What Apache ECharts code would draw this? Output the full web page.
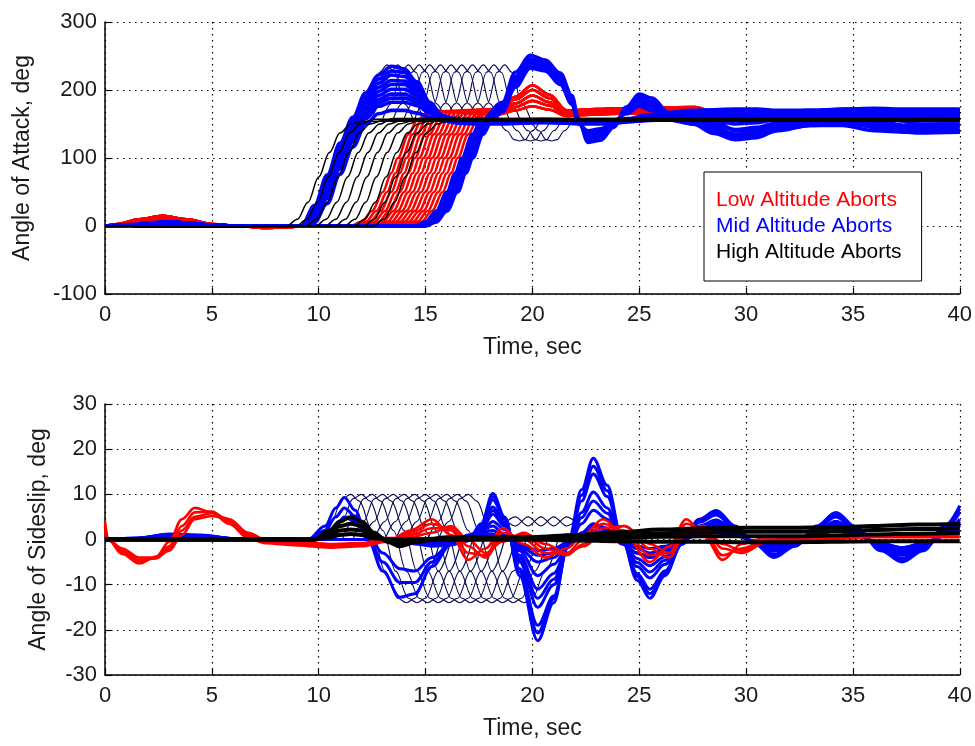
<!DOCTYPE html>
<html><head><meta charset="utf-8">
<script src="https://cdn.jsdelivr.net/npm/echarts@6/dist/echarts.min.js"></script>
<style>html,body{margin:0;padding:0;background:#fff}#c{width:975px;height:746px}</style>
</head><body><div id="c"></div>
<script>
// ================= Angle of Attack (top panel) =================
// Low altitude (red): pre-abort wiggle variants, onset times of the pitch-up, rise shape, post variants
const aoaRedPreA = [[0,0],[0.6,3],[1.6,10],[2.7,15],[3.8,10],[5.0,3],[6.2,0],[7.5,-3],[8.4,-2],[9.4,0]];
const aoaRedPreB = [[0,0],[0.6,2],[1.6,7],[2.7,11],[3.8,7],[5.0,2],[6.2,0],[7.5,-2],[8.4,-1],[9.4,0]];
const aoaRedPreC = [[0,0],[0.6,1],[1.6,4],[2.7,7],[3.8,5],[5.0,1],[6.2,0],[7.5,-2],[8.4,-1],[9.4,0]];
const aoaRedOnsets = [11.5, 11.7, 11.9, 12.1, 12.3, 12.5, 12.7, 12.9, 13.1, 13.3, 13.5, 13.7, 13.9, 14.1, 14.3, 14.5, 14.7];
const aoaRedRise = [[0,0],[0.5,6],[1.0,22],[1.5,50],[1.9,78],[2.2,100],[2.7,135],[3.1,155],[3.6,168]];
const aoaRedPostA = [[18.4,172],[19.2,190],[20.0,207],[20.8,193],[21.6,170],[23,172],[25,174],[27.6,175],[28.6,166],[31,162],[40,162]];
const aoaRedPostB = [[18.4,170],[19.2,186],[20.0,200],[20.8,188],[21.6,168],[23,170],[25,172],[27.6,173],[28.6,164],[31,161],[40,161]];
const aoaRedPostC = [[18.4,168],[19.2,180],[20.0,192],[20.8,182],[21.6,166],[23,168],[25,170],[27.6,171],[28.6,163],[31,160],[40,160]];
const aoaRedPostD = [[18.4,166],[19.2,175],[20.0,184],[20.8,177],[21.6,164],[23,166],[25,168],[27.6,169],[28.6,161],[31,159],[40,159]];
const aoaRedPostE = [[18.4,164],[19.2,170],[20.0,176],[20.8,171],[21.6,162],[23,164],[25,166],[27.6,167],[28.6,160],[31,158],[40,158]];

// Mid altitude (blue), early group on a shared time grid
const aoaBlueEarlyT = [0,1.2,2.2,3.0,4.0,5.0,6.0,8.0,9.2,9.8,10.4,11.0,11.6,12.2,12.8,13.4,14.0,14.6,15.2,15.8,16.6,17.5,18.5,19.5,20.5,21.5,22.5,23.5,24.5,25.3,26.2,27.5,28.5,29.5,30.5,31.5,33,34.5,36,37.5,39,40];
const aoaBlueE1 = [0,2,5,6,4,1,0,0,0,30,75,122,160,196,222,235,231,212,182,162,156,155,155,156,157,156,155,155,158,163,167,170,171,172,172,170,170,172,173,172,172,172];
const aoaBlueE2 = [0,1,4,5,3,1,0,0,0,24,66,112,150,186,210,222,220,205,178,160,155,154,154,155,156,155,154,154,157,160,164,168,168,166,168,168,166,168,170,170,169,170];
const aoaBlueE3 = [0,1,3,4,3,1,0,0,0,18,57,102,141,176,198,208,208,197,175,158,154,153,153,154,155,154,153,153,156,158,162,164,160,156,158,162,164,166,164,160,162,163];
const aoaBlueE4 = [0,1,3,4,2,0,0,0,0,12,48,92,132,166,186,194,194,187,171,157,153,152,152,153,154,153,152,152,155,157,160,158,150,142,145,152,158,162,155,148,150,150];
const aoaBlueE5 = [0,0,2,3,2,0,0,0,0,8,40,84,124,158,176,182,182,177,166,156,152,151,151,152,153,152,151,151,154,156,157,150,136,127,130,142,148,148,140,138,138,138];
const aoaBlueE6 = [0,0,1,2,1,0,0,0,0,5,33,76,116,150,165,170,170,166,160,155,151,150,150,151,152,151,150,150,153,155,156,153,145,135,136,145,150,152,146,142,144,144];
const aoaBlueE7 = [0,1,4,5,3,1,0,0,0,27,70,117,155,191,216,228,226,208,180,161,155,154,154,155,156,155,154,154,157,161,165,169,170,170,170,169,168,170,171,171,170,171];
const aoaBlueE8 = [0,1,3,4,3,1,0,0,0,15,52,97,137,171,192,201,201,192,173,158,154,153,153,154,155,154,153,153,156,158,161,160,155,150,152,157,161,164,160,154,156,157];
const aoaBlueE9 = [0,1,4,5,3,1,0,0,0,21,62,107,146,181,204,214,213,200,176,159,155,154,154,155,156,155,154,154,157,159,163,166,164,161,163,165,165,167,167,165,166,166];
const aoaBlueE10 = [0,1,2,3,2,0,0,0,0,10,44,88,128,162,181,188,188,182,168,156,152,151,151,152,153,152,151,151,154,156,158,154,143,134,138,148,153,155,150,145,147,147];

// Mid altitude (blue), late group: onsets, rise, then shared post grid
const aoaBluePre = [[0,0],[1.2,1],[2.2,4],[3.0,6],[4.0,4],[5.0,1],[6.0,0]];
const aoaBlueLateOnsets = [14.5, 14.6, 14.7, 14.8, 14.9, 14.95, 15.0];
const aoaBlueRise = [[0,0],[0.5,6],[1.0,22],[1.5,50],[1.9,78],[2.2,100],[2.7,135],[3.1,155]];
const aoaBlueLateT = [18.6,19.2,19.9,20.6,21.3,21.85,22.15,22.6,23.2,23.8,24.4,25.0,25.6,26.4,27.5,28.5,29.5,30.5,31.5,33,35,36.5,38,40];
const aoaBlueP1 = [182,226,251,244,225,192,158,123,126,145,175,194,188,166,160,150,128,136,150,158,162,150,140,140];
const aoaBlueP2 = [178,220,246,240,220,188,156,127,130,148,172,189,183,163,158,155,140,142,152,162,168,160,150,150];
const aoaBlueP3 = [176,217,243,238,218,186,155,129,132,149,171,186,180,161,166,165,160,159,163,168,171,170,164,165];
const aoaBlueP4 = [174,214,240,236,216,185,154,131,134,150,170,184,178,160,164,162,155,155,160,166,170,168,160,160];
const aoaBlueP5 = [172,211,238,234,214,183,153,133,136,151,168,182,176,159,150,140,130,134,145,154,156,146,138,139];
const aoaBlueP6 = [170,208,236,232,212,182,152,136,139,152,167,180,174,158,168,168,165,163,166,170,172,172,168,170];
const aoaBlueP7 = [168,204,232,228,208,179,150,140,143,154,165,176,170,156,155,145,135,132,140,148,150,142,137,138];

// High altitude (black) pitch-up curves
const aoaBlackPre = [[0,0],[1.0,0],[2.0,-2],[6.6,-2],[7.2,0]];
const aoaBlackOnsets = [8.5, 8.95, 9.4, 9.85, 10.3, 10.75, 11.2, 11.65, 12.1, 12.55];
const aoaBlackPlateaus = [154, 157, 155, 158, 156, 154, 157, 155, 158, 156];
const aoaBlackRise = [[0,0],[0.5,10],[1.0,35],[1.5,72],[2.0,108],[2.5,137],[3.0,150]];

// Dark cross-hatch traces
const aoaHatchPeaks = [13.2,13.7,14.2,14.7,15.2,15.7,16.2,16.7,17.2,17.7,18.2,18.7];
const aoaHatchHump = [[-1.2,158],[-0.8,180],[-0.35,226],[0,237],[0.35,226],[0.8,180],[1.2,158]];
const aoaHatchTroughs = [19.4,19.9,20.4,20.9];
const aoaHatchDip = [[-1.0,158],[-0.6,140],[-0.25,127],[0,125],[0.25,127],[0.6,140],[1.0,158]];

// ================= Angle of Sideslip (bottom panel) =================
const betaRedT = [0,0.15,0.8,1.6,2.4,3.0,3.6,4.2,5.0,5.8,6.7,7.5,9,10.5,12,13.2,14.3,15.3,16.2,17.0,17.8,18.6,19.6,20.6,21.6,22.4,23.3,24.3,25.5,26.4,27.2,28.0,28.9,29.8,31,33,36,40];
const betaRed1 = [4,0,-3.2,-5.3,-3.8,-0.5,4.5,7.0,6.0,3.5,0.3,-0.8,-1.3,-1.8,-1.5,-0.5,2.0,4.5,1.0,-4.5,-2.0,2.5,-1.0,-4.0,-2.0,1.0,4.5,1.0,-5.0,-1.5,4.5,1.0,-4.5,-1.0,0.5,0,0.5,0.5];
const betaRed2 = [3,0,-2.8,-4.8,-4.0,-1.5,3.0,6.0,6.2,4.0,0.8,-0.5,-1.0,-1.5,-1.3,-0.3,1.5,3.5,2.0,-3.0,-3.5,1.5,0,-3.0,-3.0,0,3.5,2.0,-3.5,-3.0,3.5,2.0,-3.5,-2.0,0,0.3,0.8,1.0];
const betaRed3 = [2,0,-2.5,-4.5,-4.2,-2.0,2.0,5.0,5.8,4.5,1.2,-0.3,-0.8,-1.2,-1.0,0,1.0,2.5,2.5,-1.5,-4.0,0.5,1.0,-2.0,-3.5,-1.0,2.5,3.0,-2.0,-4.0,2.0,3.0,-2.0,-3.0,-0.5,0.5,1.0,1.5];
const betaRed4 = [1,0,-2.0,-4.0,-4.0,-2.5,1.0,4.5,5.2,4.5,1.5,0,-0.5,-1.0,-0.8,0.3,0.5,1.5,3.0,0,-3.0,-0.5,1.5,-1.0,-3.0,-1.5,1.5,3.0,-1.0,-3.0,1.0,3.0,-1.0,-2.5,-0.5,0,1.0,1.5];

const betaBlueT = [0,1.5,3,4.5,6,9.5,10.3,10.8,11.2,11.7,12.3,13.0,13.8,14.5,15.3,16.2,17.0,17.6,18.15,18.7,19.4,20.25,21.0,21.7,22.3,22.85,23.5,24.2,24.9,25.5,26.2,27.0,27.8,28.6,29.5,30.4,31.3,32.3,33.3,34.2,35.2,36.3,37.3,38.3,39.3,40];
const betaBlueL1 = [0,0.3,1.2,1.0,0.2,0,0,0,0,0,0,0,-0.3,-1.0,-1.5,-1.2,-0.3,3.5,10.2,5.0,-8,-22.4,-14,0,11,18,12,0,-9,-13,-8,-1,4.5,6.4,3,-1,-4,-1.5,3,6,2.5,-2.5,-5,-2.5,3,7.5];
const betaBlueL6 = [0,0.3,1.1,0.9,0.2,0,0,0,0,0,0,0,-0.2,-0.9,-1.3,-1.1,-0.2,3.2,9.5,4.8,-7.2,-20.7,-13.2,-0.5,9.8,16.2,10.8,0,-8.2,-12,-7.5,-1,4.2,5.9,2.8,-1,-3.6,-1.3,2.7,5.5,2.2,-2.2,-4.6,-2.2,2.7,6.8];
const betaBlueL2 = [0,0.3,1.0,0.8,0.2,0,0,0,0,0,0,0,-0.2,-0.8,-1.2,-1.0,-0.2,3.0,8.8,4.5,-6.5,-19,-12.5,-1,8.5,14.5,9.5,0,-7.5,-11,-7,-1,3.8,5.4,2.5,-1,-3.3,-1.2,2.5,5,2,-2,-4.2,-2,2.5,6];
const betaBlueL3 = [0,0.2,0.8,0.6,0.1,0,0,0,0,0,0,0,0,-0.5,-0.8,-0.6,0,2.5,7.2,3.8,-5,-15,-10,-1.5,6,10.5,7,-0.5,-6,-8.5,-5.5,-0.8,3,4.3,2,-0.8,-2.6,-1,2,4,1.6,-1.6,-3.4,-1.6,2,4.5];
const betaBlueL7 = [0,0.2,0.7,0.55,0.1,0,0,0,0,0,0,0,0,-0.4,-0.6,-0.5,0,2.2,6.4,3.4,-4.2,-13,-8.8,-1.5,4.8,8.5,5.8,-0.5,-5.1,-7.2,-4.6,-0.6,2.6,3.8,1.8,-0.7,-2.3,-0.9,1.8,3.5,1.4,-1.4,-3,-1.4,1.8,3.8];
const betaBlueL4 = [0,0.2,0.6,0.5,0.1,0,0,0,0,0,0,0,0,-0.3,-0.5,-0.4,0,2.0,5.6,3.0,-3.5,-11,-7.5,-1.5,3.5,6.5,4.5,-0.5,-4.2,-5.8,-3.8,-0.5,2.2,3.2,1.5,-0.6,-2,-0.8,1.5,3,1.2,-1.2,-2.6,-1.2,1.5,3.2];
const betaBlueL5 = [0,0.1,0.5,0.4,0.1,0,0,0,0,0,0,0,0,-0.2,-0.3,-0.2,0,1.5,4.0,2.2,-2.5,-8,-5.5,-1.5,1.5,3.5,2.5,-1,-3,-4,-2.5,-0.3,1.5,2.2,1,-0.4,-1.4,-0.5,1,2,0.8,-0.8,-1.8,-0.8,1,2.2];
const betaBlueE1 = [0,0.3,1.0,0.9,0.2,0,3,7,9.3,6.5,0,-7,-12.8,-12,-6,-1,1,2,3,1,-2,-5,-4,-1,1,3,2,-1,-3,-4,-3,0,2,3,1.5,-1,-2.5,-1,2,4,2,-2,-3.5,-2,1.5,4];
const betaBlueE2 = [0,0.2,0.8,0.7,0.2,0,2,5,7,5.2,0.5,-5,-9.5,-9.5,-5,-1,0.5,1.5,2,0.5,-1.5,-3.5,-3,-0.5,0.5,2,1.5,-0.5,-2,-3,-2,0,1.5,2,1,-0.5,-1.8,-0.8,1.5,3,1.5,-1.5,-2.5,-1.5,1,3];
const betaBlueE3 = [0,0.2,0.6,0.5,0.1,0,1,3,5,4,1,-3,-6.5,-7,-4,-1,0,1,1.2,0.3,-1,-2.5,-2,-0.5,0.3,1.2,1,-0.3,-1.5,-2,-1.5,0,1,1.5,0.8,-0.3,-1.2,-0.5,1,2,1,-1,-1.8,-1,0.8,2];

const betaBlackT = [0,9.8,10.5,11.0,11.5,12.0,12.6,13.2,13.8,14.6,16,18,20,22,24,26,28,30,32,34,36,38,40];
const betaBlackK1 = [0,0,2,4,5,4,1.5,-0.5,-1.5,-0.5,0.5,0.5,0.5,1,1.6,2.2,2.5,2.6,2.6,2.7,3.0,3.3,3.5];
const betaBlackK2 = [0,0,1.5,3,3.5,3,1,0,-1,0,0.3,0.3,0.3,0.5,1,1.4,1.6,1.7,1.7,1.8,2.1,2.3,2.5];
const betaBlackK3 = [0,0,1,2,2.2,2,0.5,0,-0.5,0,0,0,0,0.2,0.4,0.6,0.7,0.7,0.7,0.9,1.1,1.3,1.5];
const betaBlackK4 = [0,0,0.5,1,1.2,1,0.3,0,0,0,0,0,0,-0.2,-0.4,-0.5,-0.5,-0.6,-0.6,-0.5,-0.4,-0.4,-0.4];

const betaHatchPeaks = [11.5,12.0,12.5,13.0,13.5,14.0,14.5,15.0,15.5,16.0,16.5,17.0];
const betaHatchShape = [[-1.4,0],[-0.9,4],[-0.4,9],[0,10],[0.4,8.5],[1.0,2],[1.6,-7],[2.2,-13],[2.6,-14],[3.0,-13],[3.6,-7],[4.2,0]];
const betaStripA = [[18.6,3],[19.2,5],[19.8,3],[20.4,5],[21.0,3],[21.6,5],[22.1,3.5]];
const betaStripB = [[18.6,5],[19.2,3],[19.8,5],[20.4,3],[21.0,5],[21.6,3],[22.1,4.5]];

const LOW = 'Low Altitude Aborts', MID = 'Mid Altitude Aborts', HIGH = 'High Altitude Aborts';
const RED = '#ff0000', BLUE = '#0000ff', BLACK = '#000000', HATCH = '#0a0a55';

// ---------------- build series ----------------
const series = [];
const zip = (t, v) => t.map((x, i) => [x, v[i]]);
const shift = (shape, t0) => shape.map(p => [p[0] + t0, p[1]]);
function line(name, data, color, width, g) {
  series.push({
    type: 'line', name, data, xAxisIndex: g, yAxisIndex: g,
    symbol: 'none', showSymbol: false, smooth: 0.35, smoothMonotone: 'x',
    lineStyle: { color, width }, itemStyle: { color },
    silent: true, animation: false, emphasis: { disabled: true }
  });
}

// top panel
aoaHatchPeaks.forEach(p => line(HIGH, shift(aoaHatchHump, p), HATCH, 1.1, 0));
aoaHatchTroughs.forEach(p => line(HIGH, shift(aoaHatchDip, p), HATCH, 1.1, 0));
aoaRedOnsets.forEach((on, i) => {
  const pre = [aoaRedPreA, aoaRedPreB, aoaRedPreC][i % 3];
  const post = [aoaRedPostA, aoaRedPostC, aoaRedPostE, aoaRedPostB, aoaRedPostD][i % 5];
  const rise = shift(aoaRedRise, on);
  const end = rise[rise.length - 1][0];
  line(LOW, pre.concat(rise, post.filter(p => p[0] > end + 0.2)), RED, 2.6, 0);
});
[aoaBlueE1, aoaBlueE7, aoaBlueE2, aoaBlueE9, aoaBlueE3, aoaBlueE8, aoaBlueE4, aoaBlueE10, aoaBlueE5, aoaBlueE6]
  .forEach(v => line(MID, zip(aoaBlueEarlyT, v), BLUE, 3.6, 0));
[aoaBlueP1, aoaBlueP2, aoaBlueP3, aoaBlueP4, aoaBlueP5, aoaBlueP6, aoaBlueP7].forEach((v, i) => {
  const rise = shift(aoaBlueRise, aoaBlueLateOnsets[i]);
  line(MID, aoaBluePre.concat(rise, zip(aoaBlueLateT, v)), BLUE, 3.6, 0);
});
aoaBlackOnsets.forEach((on, i) => {
  const rise = shift(aoaBlackRise, on);
  const pl = aoaBlackPlateaus[i];
  line(HIGH, aoaBlackPre.concat(rise, [[on + 3.6, pl], [40, pl]]), BLACK, 1.5, 0);
});

// bottom panel
betaHatchPeaks.forEach(p => line(HIGH, shift(betaHatchShape, p), HATCH, 1.1, 1));
line(HIGH, betaStripA, HATCH, 1.1, 1);
line(HIGH, betaStripB, HATCH, 1.1, 1);
[betaBlueL1, betaBlueL6, betaBlueL2, betaBlueL3, betaBlueL7, betaBlueL4, betaBlueL5, betaBlueE1, betaBlueE2, betaBlueE3]
  .forEach(v => line(MID, zip(betaBlueT, v), BLUE, 3, 1));
[betaRed1, betaRed2, betaRed3, betaRed4].forEach(v => line(LOW, zip(betaRedT, v), RED, 2.6, 1));
[betaBlackK1, betaBlackK2, betaBlackK3, betaBlackK4].forEach(v => line(HIGH, zip(betaBlackT, v), BLACK, 4, 1));

// ---------------- axes ----------------
const FONT = 'Liberation Sans, Arial, sans-serif';
const TXT = '#1a1a1a';
const dotted = { show: true, lineStyle: { color: '#000', width: 1.2, type: [1.5, 4.5] } };
function xAx(g) {
  return {
    type: 'value', gridIndex: g, min: 0, max: 40, interval: 5,
    name: 'Time, sec', nameLocation: 'middle', nameGap: 42,
    nameTextStyle: { fontSize: 23, fontFamily: FONT, color: TXT },
    axisLine: { show: true, onZero: false, lineStyle: { color: '#000', width: 1.5 } },
    axisTick: { show: true, inside: true, length: 6, lineStyle: { color: '#000', width: 1.2 } },
    axisLabel: { fontSize: 22, fontFamily: FONT, color: TXT, margin: 10 },
    splitLine: dotted
  };
}
function yAx(g, min, max, interval, name, gap) {
  return {
    type: 'value', gridIndex: g, min, max, interval,
    name, nameLocation: 'middle', nameGap: gap,
    nameTextStyle: { fontSize: 23, fontFamily: FONT, color: TXT },
    axisLine: { show: true, onZero: false, lineStyle: { color: '#000', width: 1.5 } },
    axisTick: { show: true, inside: true, length: 6, lineStyle: { color: '#000', width: 1.2 } },
    axisLabel: { fontSize: 22, fontFamily: FONT, color: TXT, margin: 8 },
    splitLine: dotted
  };
}

const chart = echarts.init(document.getElementById('c'), null, { renderer: 'canvas' });
chart.setOption({
  backgroundColor: '#ffffff',
  animation: false,
  grid: [
    { left: 105, top: 22, width: 855, height: 272 },
    { left: 105, top: 404, width: 855, height: 271 }
  ],
  xAxis: [xAx(0), xAx(1)],
  yAxis: [
    yAx(0, -100, 300, 100, 'Angle of Attack, deg', 71),
    yAx(1, -30, 30, 10, 'Angle of Sideslip, deg', 55)
  ],
  legend: {
    orient: 'vertical', left: 704, top: 172,
    itemWidth: 0, itemHeight: 10, itemGap: 5, icon: 'rect',
    padding: [18, 20, 18, 7],
    backgroundColor: '#ffffff', borderColor: '#000', borderWidth: 1, borderRadius: 0,
    selectedMode: false,
    textStyle: { fontSize: 21, fontFamily: FONT },
    data: [
      { name: LOW, textStyle: { color: RED } },
      { name: MID, textStyle: { color: BLUE } },
      { name: HIGH, textStyle: { color: BLACK } }
    ]
  },
  series
});
</script></body></html>
